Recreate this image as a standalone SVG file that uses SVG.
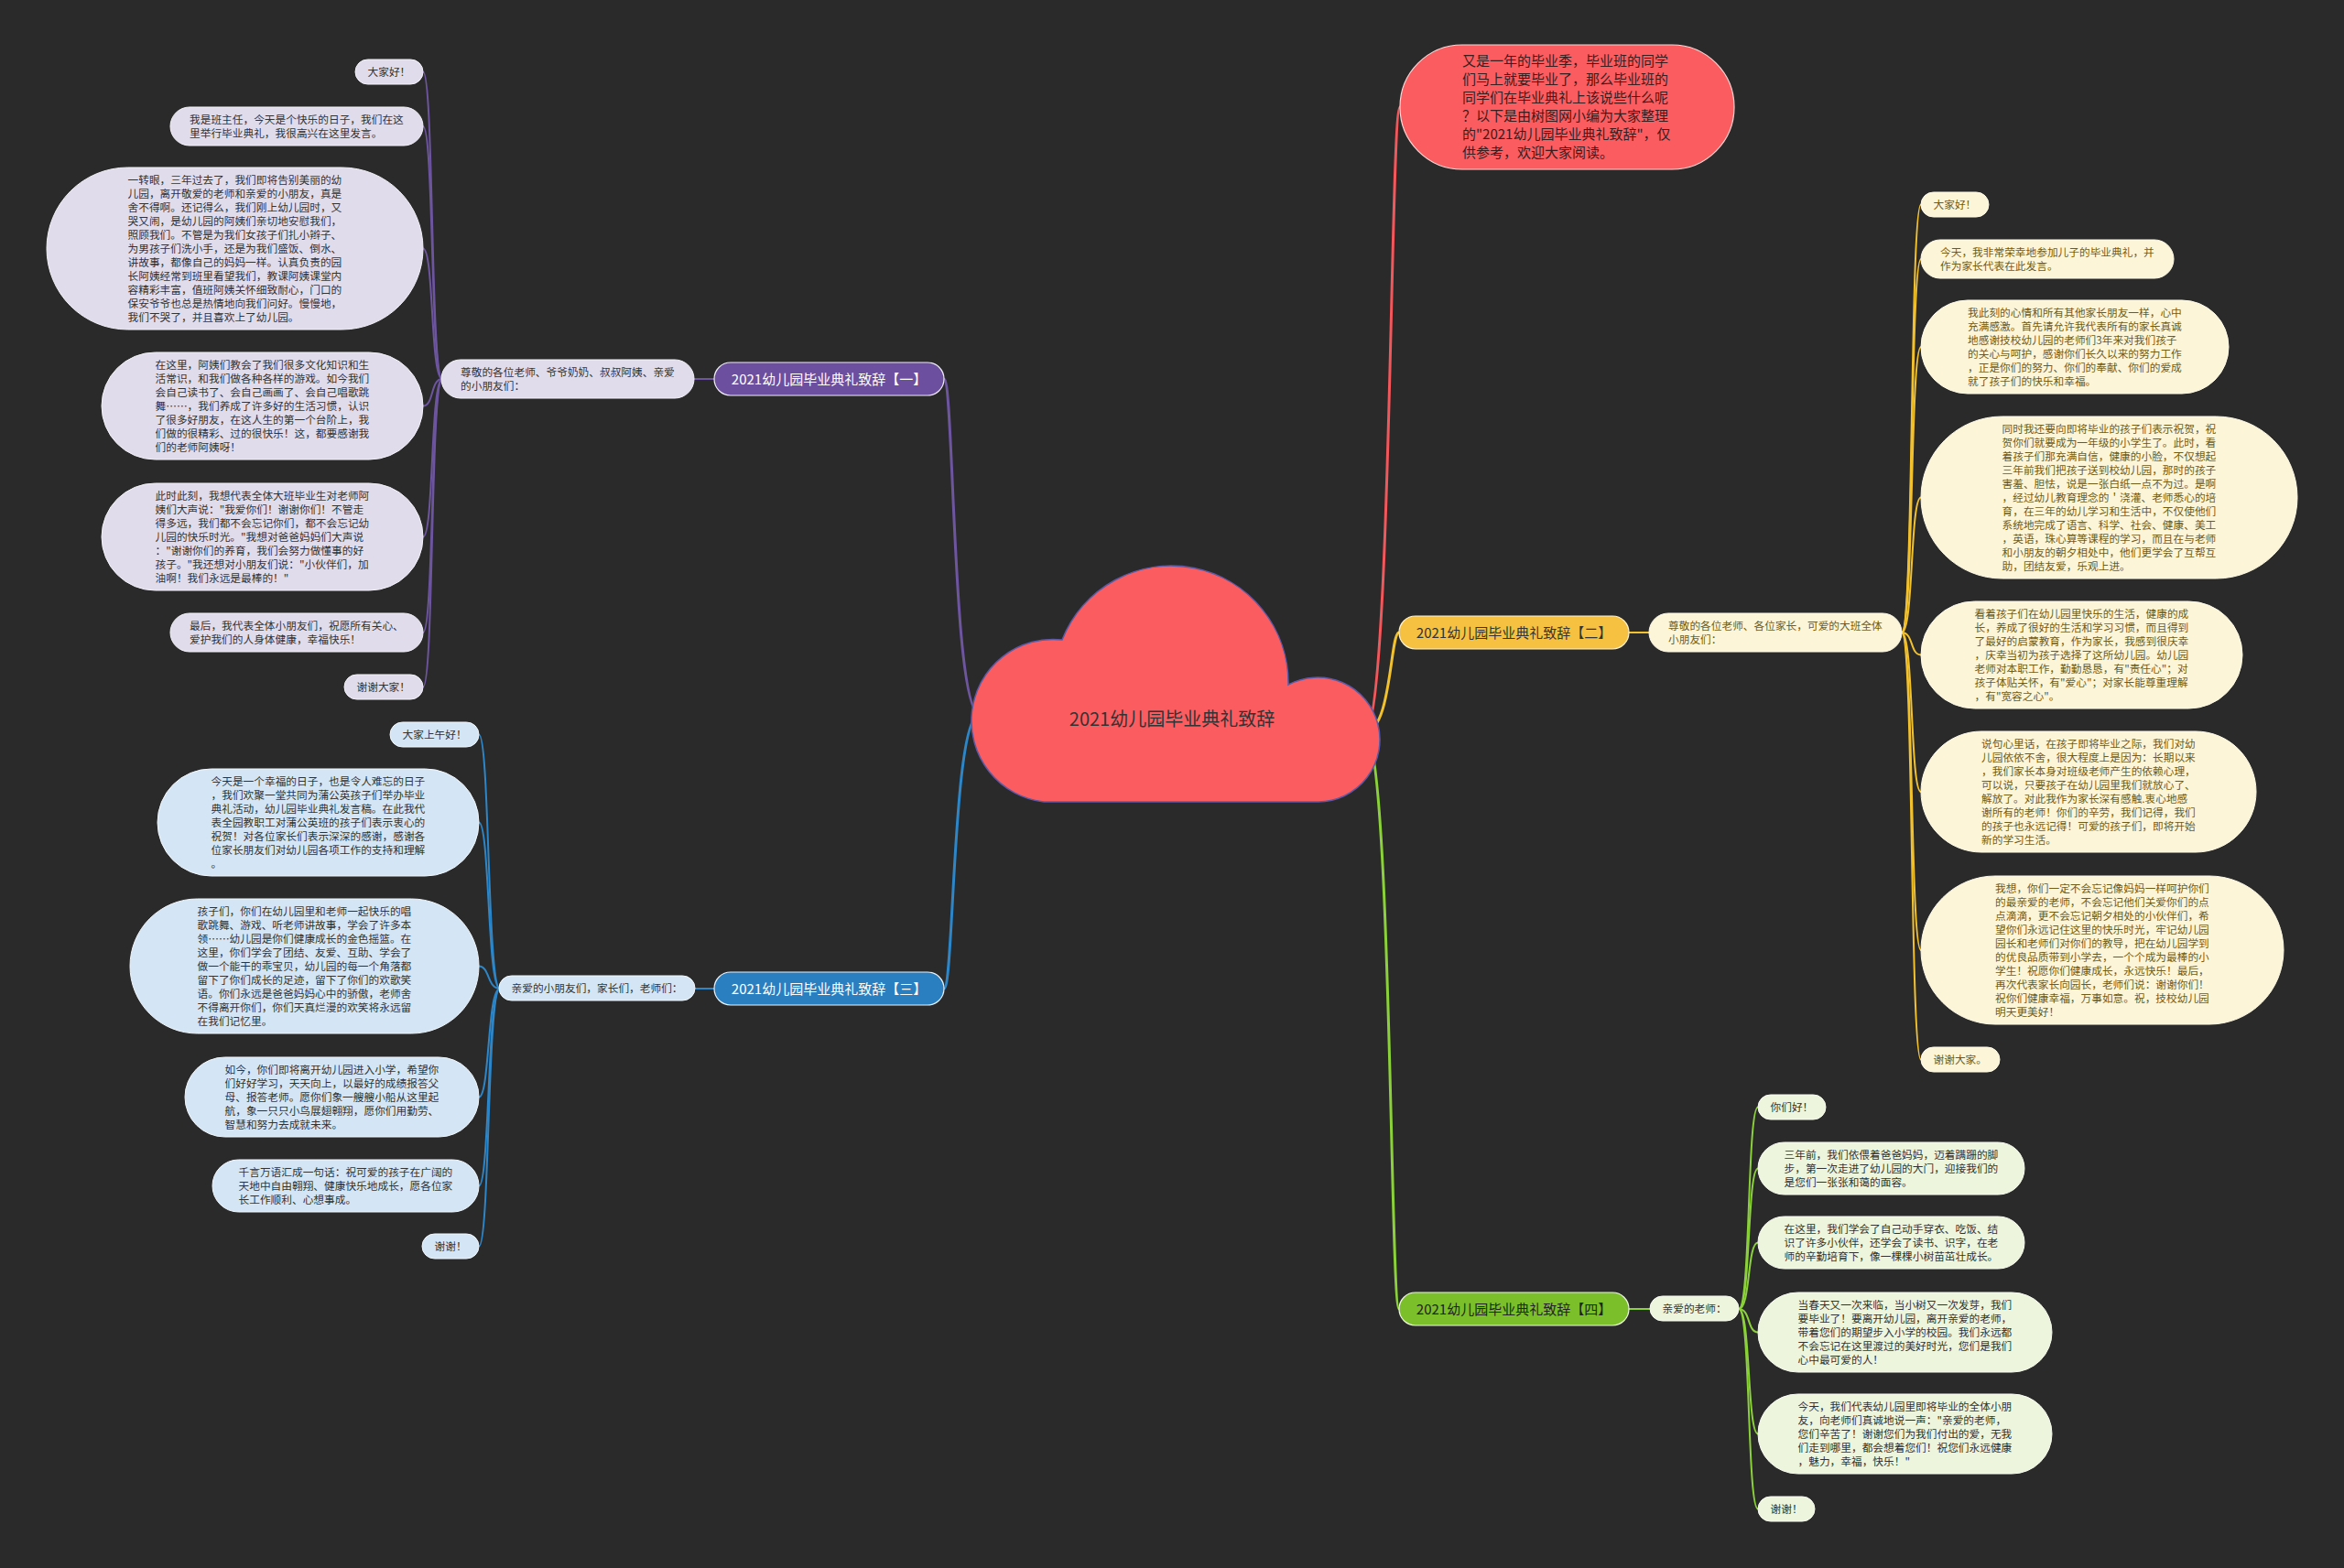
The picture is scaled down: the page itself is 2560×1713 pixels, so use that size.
<svg xmlns="http://www.w3.org/2000/svg" width="2560" height="1713" viewBox="0 0 2560 1713">
<style>
text{font-family:"Noto Sans CJK SC","Noto Sans",sans-serif}
.s{font-size:11.7px;fill:#333}
.sy{font-size:11.7px;fill:#6f5c18}
.m{font-size:15px;text-anchor:middle}
.pc{fill:#e1dcec;stroke:#f4f2f8;stroke-width:1}
.bc{fill:#d4e6f5;stroke:#f2f7fc;stroke-width:1}
.yc{fill:#fdf5d7;stroke:#fffbea;stroke-width:1}
.gc{fill:#edf5dd;stroke:#f8fbf2;stroke-width:1}
.lp{fill:none;stroke:#6d559f;stroke-width:2}
.lb{fill:none;stroke:#2d86c8;stroke-width:2}
.ly{fill:none;stroke:#f2c12e;stroke-width:2}
.lg{fill:none;stroke:#8bd13a;stroke-width:2}
.lr{fill:none;stroke:#f2575b;stroke-width:2}
.main{stroke-width:3}
</style>
<rect width="2560" height="1713" fill="#2a2a2a"/>

<g id="connectors">
  <path class="lp main" d="M1070,780 C1040,780 1042,414 1031,414"/>
  <path class="lb main" d="M1070,780 C1040,780 1042,1080 1031,1080"/>
  <path class="lr main" d="M1490,800 C1520,800 1518,117 1529,117"/>
  <path class="ly main" d="M1490,800 C1520,800 1518,691 1528,691"/>
  <path class="lg main" d="M1490,800 C1520,800 1518,1430 1528,1430"/>
  <path class="lp" d="M758,414 L780,414"/>
  <path class="lb" d="M759,1080 L780,1080"/>
  <path class="ly" d="M1779,691 L1801,691"/>
  <path class="lg" d="M1779,1430 L1802,1430"/>
  <path class="lp" d="M483,414 C470,414 474,78.5 462,78.5"/>
  <path class="lp" d="M483,414 C470,414 474,138 462,138"/>
  <path class="lp" d="M483,414 C470,414 474,271.5 462,271.5"/>
  <path class="lp" d="M483,414 C470,414 474,443.5 462,443.5"/>
  <path class="lp" d="M483,414 C470,414 474,586.5 462,586.5"/>
  <path class="lp" d="M483,414 C470,414 474,691 462,691"/>
  <path class="lp" d="M483,414 C470,414 474,750.5 462,750.5"/>
  <path class="lb" d="M546,1080 C532,1080 535,802.5 523,802.5"/>
  <path class="lb" d="M546,1080 C532,1080 535,898.5 523,898.5"/>
  <path class="lb" d="M546,1080 C532,1080 535,1055.5 523,1055.5"/>
  <path class="lb" d="M546,1080 C532,1080 535,1198.5 523,1198.5"/>
  <path class="lb" d="M546,1080 C532,1080 535,1295.5 523,1295.5"/>
  <path class="lb" d="M546,1080 C532,1080 535,1361.5 523,1361.5"/>
  <path class="ly" d="M2077,691 C2090,691 2086,223.5 2098,223.5"/>
  <path class="ly" d="M2077,691 C2090,691 2086,283 2098,283"/>
  <path class="ly" d="M2077,691 C2090,691 2086,379 2098,379"/>
  <path class="ly" d="M2077,691 C2090,691 2086,543.5 2098,543.5"/>
  <path class="ly" d="M2077,691 C2090,691 2086,715.5 2098,715.5"/>
  <path class="ly" d="M2077,691 C2090,691 2086,865 2098,865"/>
  <path class="ly" d="M2077,691 C2090,691 2086,1038 2098,1038"/>
  <path class="ly" d="M2077,691 C2090,691 2086,1157.5 2098,1157.5"/>
  <path class="lg" d="M1899,1430 C1912,1430 1908,1209.5 1920,1209.5"/>
  <path class="lg" d="M1899,1430 C1912,1430 1908,1276.5 1920,1276.5"/>
  <path class="lg" d="M1899,1430 C1912,1430 1908,1357.5 1920,1357.5"/>
  <path class="lg" d="M1899,1430 C1912,1430 1908,1455.5 1920,1455.5"/>
  <path class="lg" d="M1899,1430 C1912,1430 1908,1566.5 1920,1566.5"/>
  <path class="lg" d="M1899,1430 C1912,1430 1908,1648.5 1920,1648.5"/>
</g>

<g id="root">
  <path d="M1140,876 A88,88 0 1 1 1160,699 A128,128 0 0 1 1407,748 A68,68 0 1 1 1440,876 Z" fill="#fa5c60" stroke="#5d5aa5" stroke-width="1.5"/>
  <text x="1280" y="793" font-size="20" text-anchor="middle" fill="#333">2021幼儿园毕业典礼致辞</text>
</g>

<g id="intro">
  <rect x="1529" y="49" width="365" height="136" rx="68" fill="#fa5c60" stroke="#ffd6d6" stroke-width="1.2"/>
  <text font-size="15" fill="#3a1c1c">
    <tspan x="1597" y="72.4">又是一年的毕业季，毕业班的同学</tspan>
    <tspan x="1597" y="92.4">们马上就要毕业了，那么毕业班的</tspan>
    <tspan x="1597" y="112.4">同学们在毕业典礼上该说些什么呢</tspan>
    <tspan x="1597" y="132.4">？以下是由树图网小编为大家整理</tspan>
    <tspan x="1597" y="152.4">的"2021幼儿园毕业典礼致辞"，仅</tspan>
    <tspan x="1597" y="172.4">供参考，欢迎大家阅读。</tspan>
  </text>
</g>

<!-- Branch 1 purple -->
<g id="branch1">
  <rect x="780" y="396" width="251" height="36" rx="18" fill="#6c4f9e" stroke="#f0ecf8" stroke-width="1.2"/>
  <text class="m" x="905.5" y="419.5" fill="#fff">2021幼儿园毕业典礼致辞【一】</text>
</g>
<g id="b1-sub">
  <rect class="pc" x="482" y="393" width="276" height="42" rx="21"/>
  <text class="s"><tspan x="503" y="410.5">尊敬的各位老师、爷爷奶奶、叔叔阿姨、亲爱</tspan><tspan x="503" y="425.5">的小朋友们：</tspan></text>
</g>
<g id="b1-c1">
  <rect class="pc" x="388" y="65" width="74" height="27" rx="13.5"/>
  <text class="s" x="401.5" y="82.5">大家好！</text>
</g>
<g id="b1-c2">
  <rect class="pc" x="186" y="117" width="276" height="42" rx="21"/>
  <text class="s"><tspan x="207" y="134.5">我是班主任，今天是个快乐的日子，我们在这</tspan><tspan x="207" y="149.5">里举行毕业典礼，我很高兴在这里发言。</tspan></text>
</g>
<g id="b1-c3">
  <rect class="pc" x="51" y="183" width="411" height="177" rx="88.5"/>
  <text class="s">
    <tspan x="139.5" y="200.5">一转眼，三年过去了，我们即将告别美丽的幼</tspan>
    <tspan x="139.5" y="215.5">儿园，离开敬爱的老师和亲爱的小朋友，真是</tspan>
    <tspan x="139.5" y="230.5">舍不得啊。还记得么，我们刚上幼儿园时，又</tspan>
    <tspan x="139.5" y="245.5">哭又闹，是幼儿园的阿姨们亲切地安慰我们，</tspan>
    <tspan x="139.5" y="260.5">照顾我们。不管是为我们女孩子们扎小辫子、</tspan>
    <tspan x="139.5" y="275.5">为男孩子们洗小手，还是为我们盛饭、倒水、</tspan>
    <tspan x="139.5" y="290.5">讲故事，都像自己的妈妈一样。认真负责的园</tspan>
    <tspan x="139.5" y="305.5">长阿姨经常到班里看望我们，教课阿姨课堂内</tspan>
    <tspan x="139.5" y="320.5">容精彩丰富，值班阿姨关怀细致耐心，门口的</tspan>
    <tspan x="139.5" y="335.5">保安爷爷也总是热情地向我们问好。慢慢地，</tspan>
    <tspan x="139.5" y="350.5">我们不哭了，并且喜欢上了幼儿园。</tspan>
  </text>
</g>
<g id="b1-c4">
  <rect class="pc" x="111" y="385" width="351" height="117" rx="58.5"/>
  <text class="s">
    <tspan x="169.5" y="402.5">在这里，阿姨们教会了我们很多文化知识和生</tspan>
    <tspan x="169.5" y="417.5">活常识，和我们做各种各样的游戏。如今我们</tspan>
    <tspan x="169.5" y="432.5">会自己读书了、会自己画画了、会自己唱歌跳</tspan>
    <tspan x="169.5" y="447.5">舞……，我们养成了许多好的生活习惯，认识</tspan>
    <tspan x="169.5" y="462.5">了很多好朋友，在这人生的第一个台阶上，我</tspan>
    <tspan x="169.5" y="477.5">们做的很精彩、过的很快乐！这，都要感谢我</tspan>
    <tspan x="169.5" y="492.5">们的老师阿姨呀！</tspan>
  </text>
</g>
<g id="b1-c5">
  <rect class="pc" x="111" y="528" width="351" height="117" rx="58.5"/>
  <text class="s">
    <tspan x="169.5" y="545.5">此时此刻，我想代表全体大班毕业生对老师阿</tspan>
    <tspan x="169.5" y="560.5">姨们大声说："我爱你们！谢谢你们！不管走</tspan>
    <tspan x="169.5" y="575.5">得多远，我们都不会忘记你们，都不会忘记幼</tspan>
    <tspan x="169.5" y="590.5">儿园的快乐时光。"我想对爸爸妈妈们大声说</tspan>
    <tspan x="169.5" y="605.5">："谢谢你们的养育，我们会努力做懂事的好</tspan>
    <tspan x="169.5" y="620.5">孩子。"我还想对小朋友们说："小伙伴们，加</tspan>
    <tspan x="169.5" y="635.5">油啊！我们永远是最棒的！"</tspan>
  </text>
</g>
<g id="b1-c6">
  <rect class="pc" x="186" y="670" width="276" height="42" rx="21"/>
  <text class="s"><tspan x="207" y="687.5">最后，我代表全体小朋友们，祝愿所有关心、</tspan><tspan x="207" y="702.5">爱护我们的人身体健康，幸福快乐！</tspan></text>
</g>
<g id="b1-c7">
  <rect class="pc" x="376" y="737" width="86" height="27" rx="13.5"/>
  <text class="s" x="389.5" y="754.5">谢谢大家！</text>
</g>

<!-- Branch 3 blue -->
<g id="branch3">
  <rect x="780" y="1062" width="251" height="36" rx="18" fill="#2a7fc1" stroke="#e8f2fa" stroke-width="1.2"/>
  <text class="m" x="905.5" y="1085.5" fill="#fff">2021幼儿园毕业典礼致辞【三】</text>
</g>
<g id="b3-sub">
  <rect class="bc" x="545" y="1066" width="214" height="27" rx="13.5"/>
  <text class="s" x="558.5" y="1083.5">亲爱的小朋友们，家长们，老师们：</text>
</g>
<g id="b3-c1">
  <rect class="bc" x="426" y="789" width="97" height="27" rx="13.5"/>
  <text class="s" x="439.5" y="806.5">大家上午好！</text>
</g>
<g id="b3-c2">
  <rect class="bc" x="172" y="840" width="351" height="117" rx="58.5"/>
  <text class="s">
    <tspan x="230.5" y="857.5">今天是一个幸福的日子，也是令人难忘的日子</tspan>
    <tspan x="230.5" y="872.5">，我们欢聚一堂共同为蒲公英孩子们举办毕业</tspan>
    <tspan x="230.5" y="887.5">典礼活动，幼儿园毕业典礼发言稿。在此我代</tspan>
    <tspan x="230.5" y="902.5">表全园教职工对蒲公英班的孩子们表示衷心的</tspan>
    <tspan x="230.5" y="917.5">祝贺！对各位家长们表示深深的感谢，感谢各</tspan>
    <tspan x="230.5" y="932.5">位家长朋友们对幼儿园各项工作的支持和理解</tspan>
    <tspan x="230.5" y="947.5">。</tspan>
  </text>
</g>
<g id="b3-c3">
  <rect class="bc" x="142" y="982" width="381" height="147" rx="73.5"/>
  <text class="s">
    <tspan x="215.5" y="999.5">孩子们，你们在幼儿园里和老师一起快乐的唱</tspan>
    <tspan x="215.5" y="1014.5">歌跳舞、游戏、听老师讲故事，学会了许多本</tspan>
    <tspan x="215.5" y="1029.5">领……幼儿园是你们健康成长的金色摇篮。在</tspan>
    <tspan x="215.5" y="1044.5">这里，你们学会了团结、友爱、互助、学会了</tspan>
    <tspan x="215.5" y="1059.5">做一个能干的乖宝贝，幼儿园的每一个角落都</tspan>
    <tspan x="215.5" y="1074.5">留下了你们成长的足迹，留下了你们的欢歌笑</tspan>
    <tspan x="215.5" y="1089.5">语。你们永远是爸爸妈妈心中的骄傲，老师舍</tspan>
    <tspan x="215.5" y="1104.5">不得离开你们，你们天真烂漫的欢笑将永远留</tspan>
    <tspan x="215.5" y="1119.5">在我们记忆里。</tspan>
  </text>
</g>
<g id="b3-c4">
  <rect class="bc" x="202" y="1155" width="321" height="87" rx="43.5"/>
  <text class="s">
    <tspan x="245.5" y="1172.5">如今，你们即将离开幼儿园进入小学，希望你</tspan>
    <tspan x="245.5" y="1187.5">们好好学习，天天向上，以最好的成绩报答父</tspan>
    <tspan x="245.5" y="1202.5">母、报答老师。愿你们象一艘艘小船从这里起</tspan>
    <tspan x="245.5" y="1217.5">航，象一只只小鸟展翅翱翔，愿你们用勤劳、</tspan>
    <tspan x="245.5" y="1232.5">智慧和努力去成就未来。</tspan>
  </text>
</g>
<g id="b3-c5">
  <rect class="bc" x="232" y="1267" width="291" height="57" rx="28.5"/>
  <text class="s">
    <tspan x="260.5" y="1284.5">千言万语汇成一句话：祝可爱的孩子在广阔的</tspan>
    <tspan x="260.5" y="1299.5">天地中自由翱翔、健康快乐地成长，愿各位家</tspan>
    <tspan x="260.5" y="1314.5">长工作顺利、心想事成。</tspan>
  </text>
</g>
<g id="b3-c6">
  <rect class="bc" x="461" y="1348" width="62" height="27" rx="13.5"/>
  <text class="s" x="474.5" y="1365.5">谢谢！</text>
</g>

<!-- Branch 2 yellow -->
<g id="branch2">
  <rect x="1528" y="673" width="251" height="36" rx="18" fill="#f6c140" stroke="#fff3cf" stroke-width="1.2"/>
  <text class="m" x="1653.5" y="696.5" fill="#333">2021幼儿园毕业典礼致辞【二】</text>
</g>
<g id="b2-sub">
  <rect class="yc" x="1801" y="670" width="276" height="42" rx="21"/>
  <text class="sy"><tspan x="1822" y="687.5">尊敬的各位老师、各位家长，可爱的大班全体</tspan><tspan x="1822" y="702.5">小朋友们：</tspan></text>
</g>
<g id="b2-c1">
  <rect class="yc" x="2098" y="210" width="74" height="27" rx="13.5"/>
  <text class="sy" x="2111.5" y="227.5">大家好！</text>
</g>
<g id="b2-c2">
  <rect class="yc" x="2098" y="262" width="276" height="42" rx="21"/>
  <text class="sy"><tspan x="2119" y="279.5">今天，我非常荣幸地参加儿子的毕业典礼，并</tspan><tspan x="2119" y="294.5">作为家长代表在此发言。</tspan></text>
</g>
<g id="b2-c3">
  <rect class="yc" x="2098" y="328" width="336" height="102" rx="51"/>
  <text class="sy">
    <tspan x="2149" y="345.5">我此刻的心情和所有其他家长朋友一样，心中</tspan>
    <tspan x="2149" y="360.5">充满感激。首先请允许我代表所有的家长真诚</tspan>
    <tspan x="2149" y="375.5">地感谢技校幼儿园的老师们3年来对我们孩子</tspan>
    <tspan x="2149" y="390.5">的关心与呵护，感谢你们长久以来的努力工作</tspan>
    <tspan x="2149" y="405.5">，正是你们的努力、你们的奉献、你们的爱成</tspan>
    <tspan x="2149" y="420.5">就了孩子们的快乐和幸福。</tspan>
  </text>
</g>
<g id="b2-c4">
  <rect class="yc" x="2098" y="455" width="411" height="177" rx="88.5"/>
  <text class="sy">
    <tspan x="2186.5" y="472.5">同时我还要向即将毕业的孩子们表示祝贺，祝</tspan>
    <tspan x="2186.5" y="487.5">贺你们就要成为一年级的小学生了。此时，看</tspan>
    <tspan x="2186.5" y="502.5">着孩子们那充满自信，健康的小脸，不仅想起</tspan>
    <tspan x="2186.5" y="517.5">三年前我们把孩子送到校幼儿园，那时的孩子</tspan>
    <tspan x="2186.5" y="532.5">害羞、胆怯，说是一张白纸一点不为过。是啊</tspan>
    <tspan x="2186.5" y="547.5">，经过幼儿教育理念的＇浇灌、老师悉心的培</tspan>
    <tspan x="2186.5" y="562.5">育，在三年的幼儿学习和生活中，不仅使他们</tspan>
    <tspan x="2186.5" y="577.5">系统地完成了语言、科学、社会、健康、美工</tspan>
    <tspan x="2186.5" y="592.5">，英语，珠心算等课程的学习，而且在与老师</tspan>
    <tspan x="2186.5" y="607.5">和小朋友的朝夕相处中，他们更学会了互帮互</tspan>
    <tspan x="2186.5" y="622.5">助，团结友爱，乐观上进。</tspan>
  </text>
</g>
<g id="b2-c5">
  <rect class="yc" x="2098" y="657" width="351" height="117" rx="58.5"/>
  <text class="sy">
    <tspan x="2156.5" y="674.5">看着孩子们在幼儿园里快乐的生活，健康的成</tspan>
    <tspan x="2156.5" y="689.5">长，养成了很好的生活和学习习惯，而且得到</tspan>
    <tspan x="2156.5" y="704.5">了最好的启蒙教育，作为家长，我感到很庆幸</tspan>
    <tspan x="2156.5" y="719.5">，庆幸当初为孩子选择了这所幼儿园。幼儿园</tspan>
    <tspan x="2156.5" y="734.5">老师对本职工作，勤勤恳恳，有"责任心"；对</tspan>
    <tspan x="2156.5" y="749.5">孩子体贴关怀，有"爱心"；对家长能尊重理解</tspan>
    <tspan x="2156.5" y="764.5">，有"宽容之心"。</tspan>
  </text>
</g>
<g id="b2-c6">
  <rect class="yc" x="2098" y="799" width="366" height="132" rx="66"/>
  <text class="sy">
    <tspan x="2164" y="816.5">说句心里话，在孩子即将毕业之际，我们对幼</tspan>
    <tspan x="2164" y="831.5">儿园依依不舍，很大程度上是因为：长期以来</tspan>
    <tspan x="2164" y="846.5">，我们家长本身对班级老师产生的依赖心理，</tspan>
    <tspan x="2164" y="861.5">可以说，只要孩子在幼儿园里我们就放心了、</tspan>
    <tspan x="2164" y="876.5">解放了。对此我作为家长深有感触.衷心地感</tspan>
    <tspan x="2164" y="891.5">谢所有的老师！你们的辛劳，我们记得，我们</tspan>
    <tspan x="2164" y="906.5">的孩子也永远记得！可爱的孩子们，即将开始</tspan>
    <tspan x="2164" y="921.5">新的学习生活。</tspan>
  </text>
</g>
<g id="b2-c7">
  <rect class="yc" x="2098" y="957" width="396" height="162" rx="81"/>
  <text class="sy">
    <tspan x="2179" y="974.5">我想，你们一定不会忘记像妈妈一样呵护你们</tspan>
    <tspan x="2179" y="989.5">的最亲爱的老师，不会忘记他们关爱你们的点</tspan>
    <tspan x="2179" y="1004.5">点滴滴，更不会忘记朝夕相处的小伙伴们，希</tspan>
    <tspan x="2179" y="1019.5">望你们永远记住这里的快乐时光，牢记幼儿园</tspan>
    <tspan x="2179" y="1034.5">园长和老师们对你们的教导，把在幼儿园学到</tspan>
    <tspan x="2179" y="1049.5">的优良品质带到小学去，一个个成为最棒的小</tspan>
    <tspan x="2179" y="1064.5">学生！祝愿你们健康成长，永远快乐！最后，</tspan>
    <tspan x="2179" y="1079.5">再次代表家长向园长，老师们说：谢谢你们！</tspan>
    <tspan x="2179" y="1094.5">祝你们健康幸福，万事如意。祝，技校幼儿园</tspan>
    <tspan x="2179" y="1109.5">明天更美好！</tspan>
  </text>
</g>
<g id="b2-c8">
  <rect class="yc" x="2098" y="1144" width="86" height="27" rx="13.5"/>
  <text class="sy" x="2111.5" y="1161.5">谢谢大家。</text>
</g>

<!-- Branch 4 green -->
<g id="branch4">
  <rect x="1528" y="1412" width="251" height="36" rx="18" fill="#7bbf2a" stroke="#eef8e0" stroke-width="1.2"/>
  <text class="m" x="1653.5" y="1435.5" fill="#222">2021幼儿园毕业典礼致辞【四】</text>
</g>
<g id="b4-sub">
  <rect class="gc" x="1802" y="1416" width="97" height="27" rx="13.5"/>
  <text class="s" x="1815.5" y="1433.5">亲爱的老师：</text>
</g>
<g id="b4-c1">
  <rect class="gc" x="1920" y="1196" width="74" height="27" rx="13.5"/>
  <text class="s" x="1933.5" y="1213.5">你们好！</text>
</g>
<g id="b4-c2">
  <rect class="gc" x="1920" y="1248" width="291" height="57" rx="28.5"/>
  <text class="s">
    <tspan x="1948.5" y="1265.5">三年前，我们依偎着爸爸妈妈，迈着蹒跚的脚</tspan>
    <tspan x="1948.5" y="1280.5">步，第一次走进了幼儿园的大门，迎接我们的</tspan>
    <tspan x="1948.5" y="1295.5">是您们一张张和蔼的面容。</tspan>
  </text>
</g>
<g id="b4-c3">
  <rect class="gc" x="1920" y="1329" width="291" height="57" rx="28.5"/>
  <text class="s">
    <tspan x="1948.5" y="1346.5">在这里，我们学会了自己动手穿衣、吃饭、结</tspan>
    <tspan x="1948.5" y="1361.5">识了许多小伙伴，还学会了读书、识字，在老</tspan>
    <tspan x="1948.5" y="1376.5">师的辛勤培育下，像一棵棵小树苗茁壮成长。</tspan>
  </text>
</g>
<g id="b4-c4">
  <rect class="gc" x="1920" y="1412" width="321" height="87" rx="43.5"/>
  <text class="s">
    <tspan x="1963.5" y="1429.5">当春天又一次来临，当小树又一次发芽，我们</tspan>
    <tspan x="1963.5" y="1444.5">要毕业了！要离开幼儿园，离开亲爱的老师，</tspan>
    <tspan x="1963.5" y="1459.5">带着您们的期望步入小学的校园。我们永远都</tspan>
    <tspan x="1963.5" y="1474.5">不会忘记在这里渡过的美好时光，您们是我们</tspan>
    <tspan x="1963.5" y="1489.5">心中最可爱的人！</tspan>
  </text>
</g>
<g id="b4-c5">
  <rect class="gc" x="1920" y="1523" width="321" height="87" rx="43.5"/>
  <text class="s">
    <tspan x="1963.5" y="1540.5">今天，我们代表幼儿园里即将毕业的全体小朋</tspan>
    <tspan x="1963.5" y="1555.5">友，向老师们真诚地说一声："亲爱的老师，</tspan>
    <tspan x="1963.5" y="1570.5">您们辛苦了！谢谢您们为我们付出的爱，无我</tspan>
    <tspan x="1963.5" y="1585.5">们走到哪里，都会想着您们！祝您们永远健康</tspan>
    <tspan x="1963.5" y="1600.5">，魅力，幸福，快乐！"</tspan>
  </text>
</g>
<g id="b4-c6">
  <rect class="gc" x="1920" y="1635" width="62" height="27" rx="13.5"/>
  <text class="s" x="1933.5" y="1652.5">谢谢！</text>
</g>
</svg>
